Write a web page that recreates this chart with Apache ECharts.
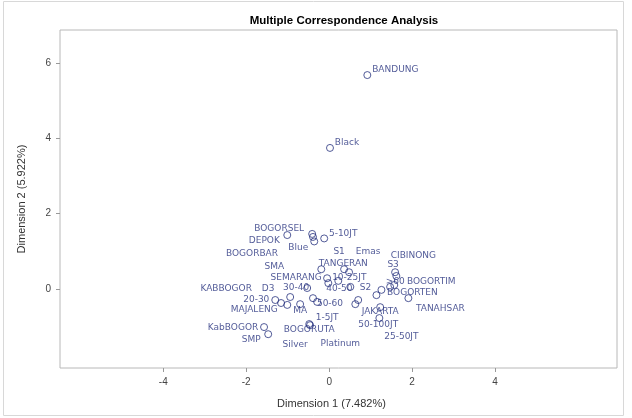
<!DOCTYPE html>
<html>
<head>
<meta charset="utf-8">
<script src="https://cdn.jsdelivr.net/npm/echarts@6/dist/echarts.min.js"></script>
<style>
  body { margin: 0; background: #fff; }
  #chart { width: 632px; height: 418px; }
</style>
</head>
<body>
<div id="chart"></div>
<script>
// category labels and their coordinates on the two MCA dimensions
const names = ['BANDUNG', 'Black', 'BOGORSEL', 'DEPOK', 'Blue', '5-10JT', 'BOGORBAR', 'S1', 'Emas',
  'CIBINONG', 'TANGERAN', 'SMA', 'S3', 'SEMARANG', '10-25JT', '>60', 'BOGORTIM', 'KABBOGOR', 'D3',
  '30-40', '40-50', 'S2', 'BOGORTEN', '20-30', '50-60', 'MAJALENG', 'MA', 'TANAHSAR', 'JAKARTA',
  '1-5JT', '50-100JT', 'KabBOGOR', 'SMP', 'BOGORUTA', '25-50JT', 'Silver', 'Platinum'];
const dim1 = [0.92, 0.02, -0.41, -1.01, -0.36, -0.12, -0.39, 0.36, 0.48,
  1.62, -0.19, -0.02, 1.59, -0.05, 0.22, 1.47, 1.57, -0.94, -1.16,
  -0.53, 0.51, 1.14, 1.26, -1.30, -0.39, -1.01, -0.70, 1.91, 0.70,
  -0.29, 1.23, -1.57, -1.47, -0.48, 1.21, -0.46, 0.63];
const dim2 = [5.69, 3.75, 1.46, 1.43, 1.26, 1.34, 1.38, 0.52, 0.44,
  0.34, 0.52, 0.15, 0.44, 0.28, 0.21, 0.05, 0.10, -0.22, -0.38,
  0.02, 0.05, -0.17, -0.03, -0.30, -0.25, -0.43, -0.41, -0.25, -0.30,
  -0.35, -0.49, -1.02, -1.21, -0.94, -0.78, -0.97, -0.41];
const xTicks = [-4, -2, 0, 2, 4];
const yTicks = [0, 2, 4, 6];

// pixel offset of each label centre from its marker (layout only)
const labelOffsets = [[28, -5], [17, -5], [-33, -5], [-23, 6], [-16, 6], [19, -5], [-61, 17], [-5, -18], [19, -21],
  [17, -20], [22, -6], [-54, -16], [-2, -8], [-31, -1], [11, -3], [5, -5], [37, -3], [-64, -8], [-13, -14],
  [-11, 0], [-11, 2], [-11, -7], [31, 3], [-19, 0], [17, 6], [-33, 5], [0, 7], [32, 11], [22, 12],
  [10, 16], [-2, 17], [-31, 1], [-17, 5], [0, 6], [22, 19], [-15, 19], [-15, 40]];

const chart = echarts.init(document.getElementById('chart'));

const points = names.map((n, i) => ({ name: n, value: [dim1[i], dim2[i]] }));

const blue = '#27327e';
const font = 'Liberation Sans, Arial, sans-serif';

chart.setOption({
  animation: false,
  title: {
    text: 'Multiple Correspondence Analysis',
    left: 339,
    top: 10,
    textAlign: 'center',
    textStyle: { fontFamily: font, fontSize: 11.5, fontWeight: 'bold', color: '#000' }
  },
  graphic: [{
    type: 'rect',
    shape: { x: 3.5, y: 1.5, width: 620, height: 414 },
    style: { fill: 'none', stroke: '#d8d8d8', lineWidth: 1 },
    silent: true
  }],
  grid: {
    left: 60, right: 15, top: 30, bottom: 50,
    show: true, borderColor: '#b8b8b8', borderWidth: 1, backgroundColor: '#fff'
  },
  xAxis: {
    type: 'value',
    min: -6.49, max: 6.94,
    name: 'Dimension 1 (7.482%)',
    nameLocation: 'middle',
    nameGap: 30,
    nameTextStyle: { fontFamily: font, fontSize: 11, color: '#333', padding: [0, 14, 0, 0] },
    axisLine: { show: false, onZero: false },
    splitLine: { show: false },
    axisTick: { show: true, length: 4, lineStyle: { color: '#999' }, customValues: xTicks },
    axisLabel: { fontFamily: font, fontSize: 10, color: '#444', margin: 9, customValues: xTicks }
  },
  yAxis: {
    type: 'value',
    min: -2.11, max: 6.89,
    name: 'Dimension 2 (5.922%)',
    nameLocation: 'middle',
    nameGap: 33,
    nameTextStyle: { fontFamily: font, fontSize: 11, color: '#333' },
    axisLine: { show: false, onZero: false },
    splitLine: { show: false },
    axisTick: { show: true, length: 4, lineStyle: { color: '#999' }, customValues: yTicks },
    axisLabel: { fontFamily: font, fontSize: 10, color: '#444', margin: 9, customValues: yTicks }
  },
  series: [{
    type: 'scatter',
    data: points,
    symbol: 'circle',
    symbolSize: 7,
    itemStyle: { color: 'rgba(0,0,0,0)', borderColor: blue, borderWidth: 1 },
    label: {
      show: true,
      position: 'inside',
      formatter: '{b}',
      fontFamily: 'DejaVu Sans, sans-serif',
      fontSize: 9,
      color: blue
    },
    labelLayout: function (params) {
      const o = labelOffsets[params.dataIndex];
      return { dx: o[0], dy: o[1], hideOverlap: false };
    }
  }]
});
</script>
</body>
</html>
